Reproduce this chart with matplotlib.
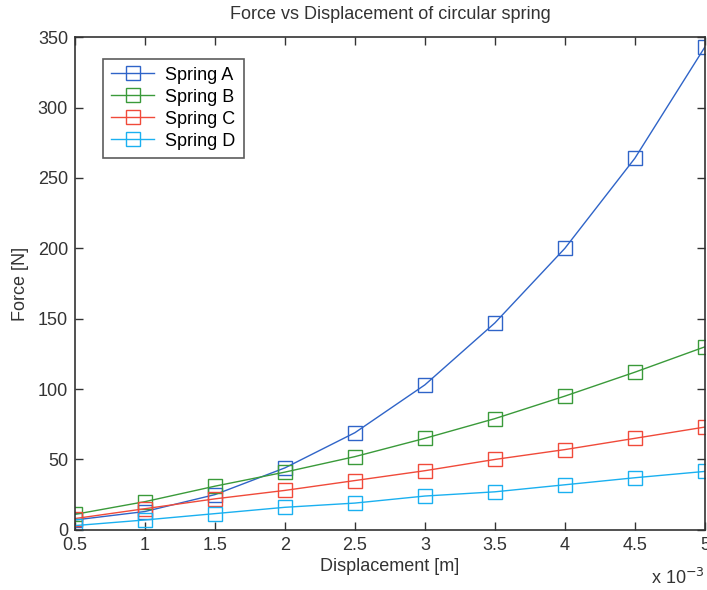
import matplotlib
matplotlib.use("Agg")
import matplotlib.pyplot as plt
from matplotlib.ticker import FuncFormatter, MultipleLocator

displacement = [0.5e-3, 1.0e-3, 1.5e-3, 2.0e-3, 2.5e-3, 3.0e-3, 3.5e-3, 4.0e-3, 4.5e-3, 5.0e-3]
spring_a = [7, 13, 25, 44, 69, 103, 147, 200, 264, 343]
spring_b = [11, 20, 31, 41, 52, 65, 79, 95, 112, 130]
spring_c = [8, 15, 22, 28, 35, 42, 50, 57, 65, 73]
spring_d = [3, 7, 11.5, 16, 19, 24, 27, 32, 37, 41.5]
labels = ["Spring A", "Spring B", "Spring C", "Spring D"]
colors = ["#2f64c8", "#3a9a3a", "#f04a3a", "#1ab0f0"]

plt.rcParams['font.family'] = ['Liberation Sans', 'DejaVu Sans']

fig = plt.figure(figsize=(7.07, 5.90), dpi=100)
ax = fig.add_axes([0.106, 0.102, 0.891, 0.835])

for ys, lab, c in zip([spring_a, spring_b, spring_c, spring_d], labels, colors):
    ax.plot(displacement, ys, color=c, lw=1.0, marker='s', markersize=10,
            markerfacecolor='none', markeredgecolor=c, markeredgewidth=1.0, label=lab)

ax.set_xlim(0.5e-3, 5e-3)
ax.set_ylim(0, 350)
ax.xaxis.set_major_locator(MultipleLocator(0.5e-3))
ax.yaxis.set_major_locator(MultipleLocator(50))
ax.xaxis.set_major_formatter(FuncFormatter(lambda v, p: f"{v*1e3:g}"))
ax.tick_params(direction='in', top=True, right=True, length=6, width=1,
               labelsize=13, colors='#333333', pad=5)
for s in ax.spines.values():
    s.set_linewidth(1.2)
    s.set_color('#333333')

ax.set_title("Force vs Displacement of circular spring", fontsize=13, color='#333333', pad=13)
ax.set_xlabel("Displacement [m]", fontsize=13, color='#333333', labelpad=3)
ax.set_ylabel("Force [N]", fontsize=13, color='#333333', labelpad=6)
fig.text(0.997, 0.003, r"x 10$^{-3}$", ha='right', va='bottom', fontsize=13, color='#333333')

leg = ax.legend(loc='upper left', bbox_to_anchor=(0.03, 0.975), fontsize=13, frameon=True,
                fancybox=False, edgecolor='#333333', handlelength=2.4, labelspacing=0.28,
                borderpad=0.45, handletextpad=0.6)
leg.get_frame().set_linewidth(1.2)

fig.savefig("out.png", dpi=100)
